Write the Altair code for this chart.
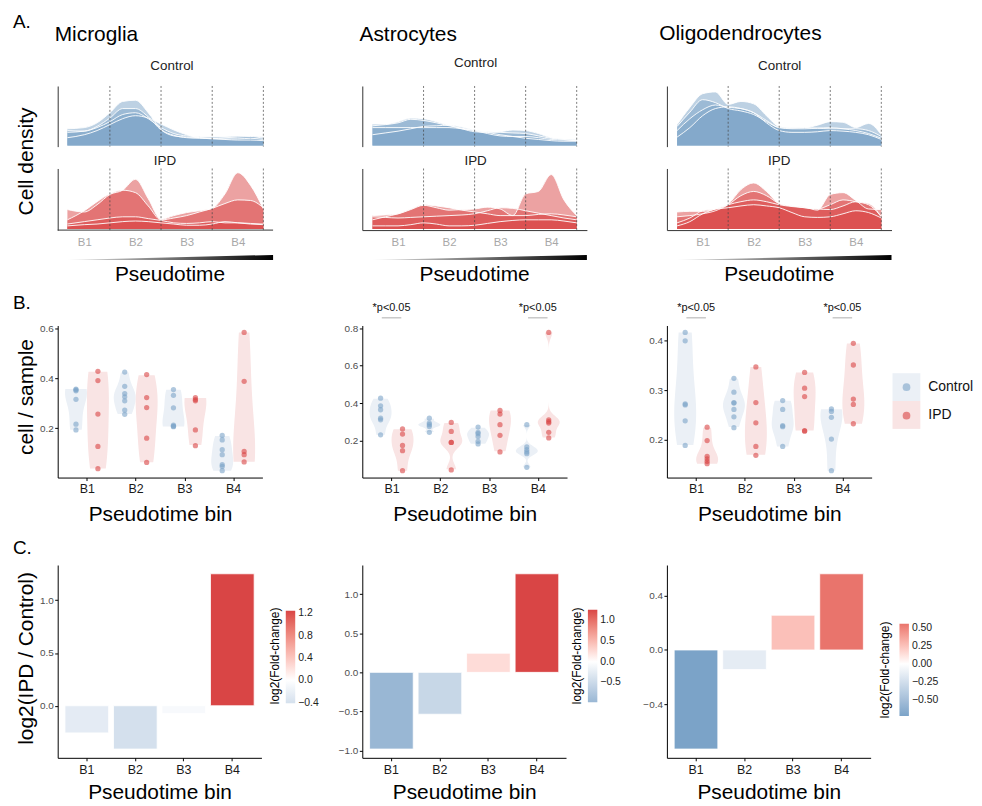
import altair as alt
import pandas as pd

FONT = "Liberation Sans"
BLUE = "#7ba3c8"
RED = "#d94545"
PALE = ["#ebf0f6", "#f9e4e4"]
CONDS = ["Control", "IPD"]
B_LABELS = ["B1", "B2", "B3", "B4"]

# ---------------- Panel A : per-sample density curves (relative height) ----------------
A_GRID = [1, 2, 3, 4]
A_LABEL_POS = [0.5, 1.5, 2.5, 3.5]
X_MG = [0.17, 0.5, 0.75, 1.0, 1.25, 1.5, 1.75, 2.0, 2.25, 2.5, 2.75, 3.0, 3.25, 3.5, 3.75, 4.0]
X_STD = [0.0, 0.25, 0.5, 0.75, 1.0, 1.25, 1.5, 1.75, 2.0, 2.25, 2.5, 2.75, 3.0, 3.25, 3.5, 3.75, 4.0]

MG_CTRL = [
    [0.28, 0.30, 0.38, 0.55, 0.74, 0.76, 0.55, 0.27, 0.17, 0.13, 0.12, 0.12, 0.13, 0.14, 0.15, 0.12],
    [0.25, 0.24, 0.32, 0.46, 0.62, 0.62, 0.48, 0.26, 0.16, 0.14, 0.13, 0.12, 0.11, 0.11, 0.12, 0.10],
    [0.13, 0.18, 0.25, 0.35, 0.45, 0.50, 0.46, 0.36, 0.26, 0.18, 0.13, 0.11, 0.10, 0.09, 0.09, 0.08],
    [0.22, 0.24, 0.30, 0.40, 0.52, 0.55, 0.45, 0.30, 0.20, 0.16, 0.15, 0.15, 0.15, 0.16, 0.16, 0.14],
]
MG_IPD = [
    [0.32, 0.28, 0.40, 0.57, 0.64, 0.82, 0.50, 0.16, 0.22, 0.27, 0.30, 0.34, 0.58, 0.93, 0.72, 0.33],
    [0.15, 0.30, 0.45, 0.58, 0.64, 0.60, 0.38, 0.15, 0.18, 0.22, 0.28, 0.34, 0.42, 0.48, 0.47, 0.35],
    [0.08, 0.12, 0.15, 0.18, 0.20, 0.20, 0.17, 0.14, 0.10, 0.09, 0.10, 0.12, 0.10, 0.10, 0.09, 0.08],
    [0.05, 0.07, 0.08, 0.10, 0.12, 0.13, 0.12, 0.10, 0.08, 0.06, 0.06, 0.08, 0.12, 0.10, 0.08, 0.07],
]
AS_CTRL = [
    [0.36, 0.36, 0.40, 0.46, 0.45, 0.40, 0.34, 0.28, 0.23, 0.22, 0.23, 0.26, 0.25, 0.20, 0.13, 0.11, 0.10],
    [0.18, 0.21, 0.24, 0.28, 0.32, 0.33, 0.34, 0.31, 0.26, 0.22, 0.18, 0.15, 0.12, 0.10, 0.08, 0.07, 0.07],
    [0.33, 0.35, 0.38, 0.44, 0.42, 0.38, 0.33, 0.29, 0.25, 0.20, 0.16, 0.15, 0.15, 0.13, 0.10, 0.09, 0.08],
    [0.30, 0.30, 0.30, 0.30, 0.30, 0.30, 0.30, 0.28, 0.25, 0.23, 0.22, 0.21, 0.20, 0.16, 0.12, 0.10, 0.08],
]
AS_IPD = [
    [0.22, 0.23, 0.25, 0.32, 0.39, 0.35, 0.31, 0.32, 0.33, 0.36, 0.33, 0.22, 0.58, 0.62, 0.90, 0.48, 0.22],
    [0.15, 0.20, 0.25, 0.33, 0.40, 0.38, 0.35, 0.31, 0.28, 0.25, 0.22, 0.22, 0.22, 0.24, 0.25, 0.23, 0.20],
    [0.20, 0.19, 0.18, 0.19, 0.20, 0.21, 0.22, 0.23, 0.25, 0.30, 0.35, 0.34, 0.30, 0.26, 0.22, 0.18, 0.15],
    [0.05, 0.05, 0.05, 0.07, 0.10, 0.08, 0.05, 0.05, 0.06, 0.09, 0.12, 0.14, 0.15, 0.15, 0.15, 0.13, 0.10],
]
OL_CTRL = [
    [0.35, 0.64, 0.87, 0.90, 0.69, 0.74, 0.70, 0.50, 0.32, 0.30, 0.30, 0.34, 0.40, 0.39, 0.30, 0.37, 0.18],
    [0.32, 0.56, 0.77, 0.72, 0.62, 0.58, 0.52, 0.40, 0.30, 0.28, 0.28, 0.29, 0.30, 0.28, 0.25, 0.20, 0.12],
    [0.14, 0.30, 0.50, 0.62, 0.65, 0.62, 0.55, 0.42, 0.30, 0.29, 0.30, 0.29, 0.28, 0.28, 0.28, 0.25, 0.15],
    [0.25, 0.45, 0.60, 0.68, 0.64, 0.62, 0.55, 0.38, 0.25, 0.22, 0.22, 0.23, 0.25, 0.24, 0.22, 0.18, 0.10],
]
OL_IPD = [
    [0.28, 0.29, 0.29, 0.33, 0.41, 0.65, 0.76, 0.62, 0.42, 0.38, 0.36, 0.31, 0.57, 0.60, 0.47, 0.33, 0.32],
    [0.20, 0.22, 0.25, 0.30, 0.40, 0.55, 0.62, 0.55, 0.42, 0.38, 0.35, 0.33, 0.40, 0.48, 0.45, 0.40, 0.20],
    [0.05, 0.12, 0.25, 0.33, 0.40, 0.45, 0.48, 0.45, 0.40, 0.37, 0.35, 0.33, 0.32, 0.38, 0.45, 0.42, 0.20],
    [0.10, 0.18, 0.30, 0.33, 0.35, 0.38, 0.40, 0.38, 0.35, 0.27, 0.20, 0.19, 0.20, 0.25, 0.30, 0.27, 0.18],
]

# ---------------- Panel B : cells / sample per bin ----------------
B_MG = {
    "Control": [[0.357, 0.354, 0.350, 0.316, 0.216, 0.193],
                [0.425, 0.368, 0.339, 0.326, 0.310, 0.273, 0.256],
                [0.355, 0.332, 0.282, 0.212, 0.208, 0.206],
                [0.171, 0.153, 0.114, 0.094, 0.054, 0.047, 0.030]],
    "IPD": [[0.428, 0.391, 0.257, 0.127, 0.038],
            [0.415, 0.323, 0.283, 0.160, 0.063],
            [0.323, 0.315, 0.310, 0.193, 0.130],
            [0.584, 0.388, 0.107, 0.094, 0.065]],
}
B_AS = {
    "Control": [[0.426, 0.385, 0.364, 0.319, 0.310, 0.230],
                [0.319, 0.293, 0.284, 0.275, 0.243],
                [0.271, 0.243, 0.236, 0.221, 0.195, 0.181],
                [0.284, 0.165, 0.150, 0.138, 0.129, 0.056]],
    "IPD": [[0.261, 0.234, 0.173, 0.145, 0.038],
            [0.296, 0.248, 0.189, 0.189, 0.042],
            [0.360, 0.341, 0.284, 0.227, 0.138],
            [0.778, 0.310, 0.300, 0.293, 0.243, 0.213]],
}
B_OL = {
    "Control": [[0.417, 0.400, 0.272, 0.270, 0.238, 0.188],
                [0.324, 0.296, 0.275, 0.274, 0.261, 0.246, 0.224],
                [0.279, 0.261, 0.228, 0.226, 0.186],
                [0.262, 0.257, 0.245, 0.201, 0.137]],
    "IPD": [[0.225, 0.198, 0.166, 0.161, 0.156, 0.151],
            [0.347, 0.275, 0.234, 0.186, 0.168],
            [0.336, 0.304, 0.287, 0.218, 0.217],
            [0.395, 0.351, 0.282, 0.271, 0.232]],
}
B_TICKS = {"mg": [0.2, 0.4, 0.6], "as": [0.2, 0.4, 0.6, 0.8], "ol": [0.2, 0.3, 0.4]}
SIG_BINS = [1, 4]
SIG_TEXT = "*p<0.05"

# ---------------- Panel C : log2 fold change ----------------
FC_MG = [-0.257, -0.410, -0.074, 1.250]
FC_AS = [-0.980, -0.535, 0.245, 1.260]
FC_OL = [-0.732, -0.145, 0.257, 0.563]
C_TICKS = {"mg": [0.0, 0.5, 1.0], "as": [-1.0, -0.5, 0.0, 0.5, 1.0], "ol": [-0.4, 0.0, 0.4]}
C_LEG = {"mg": [-0.4, 0.0, 0.4, 0.8, 1.2], "as": [-0.5, 0.0, 0.5, 1.0], "ol": [-0.5, -0.25, 0.0, 0.25, 0.5]}

ONE = pd.DataFrame({"k": [0]})


# ---------------- colour helpers (Lab mixing, like ggplot gradient2) ----------------
def _hex2rgb(h):
    h = h.lstrip("#")
    return [int(h[i:i + 2], 16) / 255 for i in (0, 2, 4)]


def _lin(c):
    return c / 12.92 if c <= 0.04045 else ((c + 0.055) / 1.055) ** 2.4


def _gam(c):
    return 12.92 * c if c <= 0.0031308 else 1.055 * c ** (1 / 2.4) - 0.055


def _rgb2lab(h):
    r, g, b = [_lin(c) for c in _hex2rgb(h)]
    X = 0.4124 * r + 0.3576 * g + 0.1805 * b
    Y = 0.2126 * r + 0.7152 * g + 0.0722 * b
    Z = 0.0193 * r + 0.1192 * g + 0.9505 * b
    f = lambda t: t ** (1 / 3) if t > 0.008856 else 7.787 * t + 16 / 116
    fx, fy, fz = f(X / 0.95047), f(Y), f(Z / 1.08883)
    return [116 * fy - 16, 500 * (fx - fy), 200 * (fy - fz)]


def _lab2hex(lab):
    L, a, b = lab
    fy = (L + 16) / 116
    fx = fy + a / 500
    fz = fy - b / 200
    finv = lambda t: t ** 3 if t ** 3 > 0.008856 else (t - 16 / 116) / 7.787
    X, Y, Z = 0.95047 * finv(fx), finv(fy), 1.08883 * finv(fz)
    r = 3.2406 * X - 1.5372 * Y - 0.4986 * Z
    g = -0.9689 * X + 1.8758 * Y + 0.0415 * Z
    bb = 0.0557 * X - 0.2040 * Y + 1.0570 * Z
    return "#" + "".join("%02x" % max(0, min(255, round(_gam(max(0, min(1, c))) * 255))) for c in (r, g, bb))


def lab_mix(c1, c2, t):
    l1, l2 = _rgb2lab(c1), _rgb2lab(c2)
    return _lab2hex([p + (q - p) * t for p, q in zip(l1, l2)])


def text_layer(text, x, y, size, angle=0, align="left", baseline="alphabetic", color="#000000"):
    return alt.Chart(ONE).mark_text(
        text=text, fontSize=size, angle=angle, align=align, baseline=baseline, color=color, font=FONT
    ).encode(x=alt.value(x), y=alt.value(y))


A_LABEL_EXPR = "[" + ",".join("'%s'" % b for b in B_LABELS) + "][floor(datum.value)]"
B_LABEL_EXPR = "[" + ",".join("'%s'" % b for b in B_LABELS) + "][datum.value - 1]"


# ---------------- Panel A builders ----------------
def a_panel(xs, curves, color, xdom, label, lx, ly, show_x, height, domain_span=None, extras=()):
    rows = []
    for i, c in enumerate(curves):
        for x, y in zip(xs, c):
            rows.append({"sample": "s%d" % i, "x": x, "y": y})
    df = pd.DataFrame(rows)
    xsc = alt.Scale(domain=xdom, nice=False, zero=False)
    ysc = alt.Scale(domain=[-0.02, 1.0], nice=False, zero=False)
    if show_x:
        xax = alt.Axis(title=None, values=A_LABEL_POS, labelExpr=A_LABEL_EXPR, ticks=False, grid=False,
                       domain=domain_span is None, domainColor="#333333", labelColor="#a8a8a8",
                       labelFontSize=11.5, labelPadding=6)
    else:
        xax = None
    yax = alt.Axis(title=None, labels=False, ticks=False, grid=False, domainColor="#333333")
    X = alt.X("x:Q", scale=xsc, axis=xax)
    Y = alt.Y("y:Q", scale=ysc, axis=yax, stack=None)
    base = alt.Chart(df)
    area = base.mark_area(color=color, opacity=0.5, interpolate="monotone").encode(x=X, y=Y, detail="sample:N")
    line = base.mark_line(color="white", strokeWidth=1, opacity=0.9, interpolate="monotone").encode(
        x=X, y=Y, detail="sample:N")
    grid = alt.Chart(pd.DataFrame({"g": A_GRID})).mark_rule(
        color="#444444", strokeWidth=0.7, strokeDash=[2, 2]).encode(x=alt.X("g:Q", scale=xsc, axis=xax))
    layers = [area, line, grid, text_layer(label, lx, ly, 13.5, align="center", color="#222222")]
    if domain_span is not None and show_x:
        layers.append(alt.Chart(pd.DataFrame({"a": [domain_span[0]], "b": [domain_span[1]]})).mark_rule(
            color="#333333", strokeWidth=1).encode(x=alt.X("a:Q", scale=xsc, axis=xax), x2="b:Q",
                                                   y=alt.value(height)))
    layers += list(extras)
    return alt.layer(*layers).properties(width=226, height=height)


def wedge_panel(x0, x1, xdom):
    df = pd.DataFrame({"x": [x0, x1], "h": [0.0, 1.0]})
    grad = alt.Gradient(gradient="linear",
                        stops=[alt.GradientStop(color="#e6e6e6", offset=0),
                               alt.GradientStop(color="#000000", offset=1)],
                        x1=0, x2=1, y1=0, y2=0)
    w = alt.Chart(df).mark_area(color=grad).encode(
        x=alt.X("x:Q", scale=alt.Scale(domain=xdom, nice=False, zero=False), axis=None),
        y=alt.Y("h:Q", scale=alt.Scale(domain=[-8.8, 1.6], nice=False, zero=False), axis=None))
    t = text_layer("Pseudotime", 113, 29, 21, align="center")
    return alt.layer(w, t).properties(width=226, height=52)


# ---------------- Panel B builder ----------------
def b_panel(data, ticks, sig=False, legend=False, extras=()):
    rows = []
    for cond in CONDS:
        for i, vals in enumerate(data[cond]):
            for v in vals:
                rows.append({"bin": i + 1, "cond": cond, "value": v})
    df = pd.DataFrame(rows)
    lo, hi = df.value.min(), df.value.max()
    r = hi - lo
    ydom = [lo - 0.05 * r, hi + 0.05 * r]
    xsc = alt.Scale(domain=[0.4, 4.6], nice=False, zero=False)
    ysc = alt.Scale(domain=ydom, nice=False, zero=False)
    xax = alt.Axis(title="Pseudotime bin", values=[1, 2, 3, 4], labelExpr=B_LABEL_EXPR, grid=False,
                   domainColor="#000000", tickColor="#000000", tickSize=3, labelColor="#1a1a1a",
                   labelFontSize=12.5, labelPadding=2.5, titleFontSize=21, titleFontWeight="normal",
                   titleColor="#000000", titleY=43, titleBaseline="alphabetic")
    yax = alt.Axis(title=None, values=ticks, format=".1f", grid=False, domainColor="#000000",
                   tickColor="#000000", tickSize=3, labelColor="#4d4d4d", labelFontSize=10, labelPadding=1.5)
    pos = "datum.bin + (datum.cond == 'Control' ? -0.225 : 0.225)"
    if legend:
        leg_fill = alt.Legend(title=None, orient="none", legendX=227, legendY=48, symbolType="square",
                              symbolSize=784, symbolStrokeWidth=0, symbolOpacity=1, labelFontSize=14,
                              labelColor="#111111", labelOffset=8, rowPadding=0, padding=0)
        leg_pts = alt.Legend(title=None, orient="none", legendX=237.1, legendY=58.1, symbolType="circle",
                             symbolSize=60, symbolStrokeWidth=0, symbolOpacity=0.6, labelFontSize=1,
                             labelOpacity=0, rowPadding=20.6, padding=0)
    else:
        leg_fill = None
        leg_pts = None
    # the point layer uses a distinct key set so that its legend is not merged with the violin legend
    pt_keys = [c + " " for c in CONDS]
    base = alt.Chart(df).transform_calculate(pos=pos, group="datum.cond + ' '")
    violin = base.transform_joinaggregate(
        vmin="min(value)", vmax="max(value)", groupby=["bin", "cond"]
    ).transform_density(
        "value", groupby=["bin", "cond", "pos", "vmin", "vmax"], as_=["v", "dens"]
    ).transform_filter(
        "datum.v >= datum.vmin - 1e-9 && datum.v <= datum.vmax + 1e-9"
    ).transform_joinaggregate(
        dmax="max(dens)", groupby=["bin", "cond"]
    ).transform_calculate(
        lo="datum.pos - datum.dens / datum.dmax * 0.225",
        hi="datum.pos + datum.dens / datum.dmax * 0.225",
        grp="datum.cond + datum.bin",
    ).mark_area(orient="horizontal", opacity=1).encode(
        y=alt.Y("v:Q", scale=ysc, axis=yax),
        x=alt.X("lo:Q", scale=xsc, axis=xax, stack=None),
        x2="hi:Q",
        fill=alt.Fill("cond:N", scale=alt.Scale(domain=CONDS, range=PALE), legend=leg_fill),
        detail="grp:N",
    )
    pts = base.mark_circle(size=28, opacity=0.6).encode(
        x=alt.X("pos:Q", scale=xsc, axis=xax),
        y=alt.Y("value:Q", scale=ysc, axis=yax),
        color=alt.Color("group:N", scale=alt.Scale(domain=pt_keys, range=[BLUE, RED]), legend=leg_pts),
    )
    layers = [violin, pts]
    if sig:
        sdf = pd.DataFrame({"bin": SIG_BINS, "t": [SIG_TEXT] * len(SIG_BINS)})
        layers.append(alt.Chart(sdf).mark_text(fontSize=11, color="#111111", baseline="alphabetic").encode(
            x=alt.X("bin:Q", scale=xsc, axis=xax), y=alt.value(-15), text="t:N"))
        layers.append(alt.Chart(sdf).transform_calculate(a="datum.bin - 0.2", b="datum.bin + 0.2").mark_rule(
            color="#8c8c8c", strokeWidth=0.7).encode(
            x=alt.X("a:Q", scale=xsc, axis=xax), x2="b:Q", y=alt.value(-7.7)))
    layers += list(extras)
    return alt.layer(*layers).resolve_legend(fill="independent", color="independent").properties(
        width=206, height=153)


# ---------------- Panel C builder ----------------
def c_panel(vals, ticks, leg_vals, leg_fmt, lx, ly, tx, ty, extras=()):
    df = pd.DataFrame({"bin": B_LABELS, "fc": vals})
    vmin, vmax = min(vals), max(vals)
    lo0, hi0 = min(vmin, 0), max(vmax, 0)
    r = hi0 - lo0
    ydom = [lo0 - 0.05 * r, hi0 + 0.05 * r]
    m = max(abs(vmin), abs(vmax))
    c_lo = lab_mix("#ffffff", BLUE, abs(vmin) / m)
    c_hi = lab_mix("#ffffff", RED, vmax / m)
    leg = alt.Legend(title=None, orient="none", legendX=lx, legendY=ly, direction="vertical",
                     gradientLength=93, gradientThickness=9.5, values=leg_vals, format=leg_fmt,
                     labelFontSize=10.5, labelColor="#222222", labelOffset=3, labelOverlap=False,
                     padding=0, gradientStrokeWidth=0)
    bars = alt.Chart(df).mark_bar(stroke="white", strokeWidth=0.8).encode(
        x=alt.X("bin:N", sort=B_LABELS,
                scale=alt.Scale(domain=B_LABELS, paddingInner=0.1, paddingOuter=0.15),
                axis=alt.Axis(title="Pseudotime bin", labelAngle=0, grid=False, domainColor="#000000",
                              tickColor="#000000", tickSize=3, labelColor="#1a1a1a", labelFontSize=12.5,
                              labelPadding=2.5, titleFontSize=21, titleFontWeight="normal",
                              titleColor="#000000", titleY=40.5, titleBaseline="alphabetic")),
        y=alt.Y("fc:Q", scale=alt.Scale(domain=ydom, nice=False, zero=False),
                axis=alt.Axis(title=None, values=ticks, format=".1f", grid=False, domainColor="#000000",
                              tickColor="#000000", tickSize=3, labelColor="#4d4d4d", labelFontSize=10,
                              labelPadding=1.5)),
        color=alt.Color("fc:Q", scale=alt.Scale(domain=[vmin, vmax], domainMid=0,
                                                range=[c_lo, "#ffffff", c_hi], interpolate="lab"),
                        legend=leg),
    )
    t = text_layer("log2(Fold-change)", tx, ty, 12, angle=270, align="center", baseline="middle")
    return alt.layer(bars, t, *extras).properties(width=205, height=194)


# ---------------- assemble ----------------
MG_DOM = [-0.02, 4.37]
STD_DOM = [-0.2, 4.2]

anchor = alt.Chart(ONE).mark_rule(strokeWidth=0, opacity=0).encode(
    x=alt.value(-50), x2=alt.value(-49), y=alt.value(-76), y2=alt.value(-76))

a_ctrl_mg = a_panel(X_MG, MG_CTRL, BLUE, MG_DOM, "Control", 115, -16, False, 61, extras=[
    anchor,
    text_layer("A.", -45, -58, 19),
    text_layer("Microglia", -3, -45, 21),
    text_layer("Cell density", -31, 76, 21, angle=270, align="center", baseline="middle"),
])
a_ctrl_as = a_panel(X_STD, AS_CTRL, BLUE, STD_DOM, "Control", 114, -19, False, 61, extras=[
    text_layer("Astrocytes", -2.8, -45, 21)])
a_ctrl_ol = a_panel(X_STD, OL_CTRL, BLUE, STD_DOM, "Control", 113.5, -16, False, 61, extras=[
    text_layer("Oligodendrocytes", -7.7, -46, 21)])

a_ipd_mg = a_panel(X_MG, MG_IPD, RED, MG_DOM, "IPD", 108, -3.5, True, 62, domain_span=[-0.02, 4.19])
a_ipd_as = a_panel(X_STD, AS_IPD, RED, STD_DOM, "IPD", 114, -3.5, True, 62)
a_ipd_ol = a_panel(X_STD, OL_IPD, RED, STD_DOM, "IPD", 113, -3.5, True, 62)

w_mg = wedge_panel(0.17, 4.19, MG_DOM)
w_as = wedge_panel(0.0, 4.2, STD_DOM)
w_ol = wedge_panel(0.0, 4.2, STD_DOM)

b_mg = b_panel(B_MG, B_TICKS["mg"], extras=[
    text_layer("B.", -45, -17, 19),
    text_layer("cell / sample", -30.5, 72, 21, angle=270, align="center", baseline="middle"),
])
b_as = b_panel(B_AS, B_TICKS["as"], sig=True)
b_ol = b_panel(B_OL, B_TICKS["ol"], sig=True, legend=True)


def spacer():
    return alt.Chart(ONE).mark_point(opacity=0).encode(x=alt.value(0), y=alt.value(0)).properties(
        width=10, height=44)


c_mg = c_panel(FC_MG, C_TICKS["mg"], C_LEG["mg"], ".1f", 229.5, 46, 219, 91.5, extras=[
    text_layer("C.", -45, -11, 19),
    text_layer("log2(IPD / Control)", -31, 94, 21, angle=270, align="center", baseline="middle"),
])
c_as = c_panel(FC_AS, C_TICKS["as"], C_LEG["as"], ".1f", 227, 45, 216.5, 91.5)
c_ol = c_panel(FC_OL, C_TICKS["ol"], C_LEG["ol"], ".2f", 234, 59, 219, 105.5)

cells = [a_ctrl_mg, a_ctrl_as, a_ctrl_ol,
         a_ipd_mg, a_ipd_as, a_ipd_ol,
         w_mg, w_as, w_ol,
         b_mg, b_as, b_ol,
         spacer(), spacer(), spacer(),
         c_mg, c_as, c_ol]

chart = alt.concat(
    *cells, columns=3, spacing={"row": 22, "column": 80.5}, bounds="flush", align="each"
).resolve_scale(
    color="independent", fill="independent"
).resolve_legend(
    color="independent", fill="independent"
).configure(
    font=FONT
).configure_view(
    stroke=None
).properties(padding=0)

chart.save("out.html", embed_options={"renderer": "svg", "actions": False})
